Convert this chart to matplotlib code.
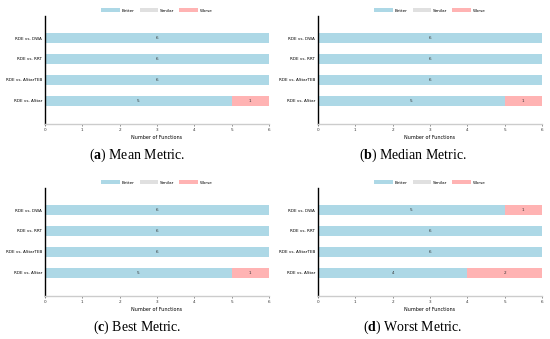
import matplotlib
matplotlib.use("Agg")
import matplotlib.pyplot as plt
import numpy as np

plt.rcParams["mathtext.fontset"] = "custom"
plt.rcParams["mathtext.rm"] = "Liberation Serif"
plt.rcParams["mathtext.bf"] = "Liberation Serif:bold"

categories = ["RDE vs. AStar", "RDE vs. AStarTEB", "RDE vs. RRT", "RDE vs. DWA"]
mean_better = [5, 6, 6, 6]
mean_similar = [0, 0, 0, 0]
mean_worse = [1, 0, 0, 0]
median_better = [5, 6, 6, 6]
median_similar = [0, 0, 0, 0]
median_worse = [1, 0, 0, 0]
best_better = [5, 6, 6, 6]
best_similar = [0, 0, 0, 0]
best_worse = [1, 0, 0, 0]
worst_better = [4, 6, 6, 5]
worst_similar = [0, 0, 0, 0]
worst_worse = [2, 0, 0, 1]
captions = [("a", " Mean Metric."), ("b", " Median Metric."), ("c", " Best Metric."), ("d", " Worst Metric.")]
legend_labels = ["Better", "Similar", "Worse"]
colors = ["#ADD8E6", "#E0E0E0", "#FFB3B3"]

W, H = 550, 339
fig = plt.figure(figsize=(W / 100, H / 100), dpi=100)

boxes = [(45, 269, 16, 124), (318, 542, 16, 124), (45, 269, 188, 296), (318, 542, 188, 296)]
cap_x = [0.25, 0.75, 0.25, 0.75]
data = [(mean_better, mean_similar, mean_worse),
        (median_better, median_similar, median_worse),
        (best_better, best_similar, best_worse),
        (worst_better, worst_similar, worst_worse)]
fs = 3.0

for (l, r, t, b), series, cap, cx in zip(boxes, data, captions, cap_x):
    ax = fig.add_axes([l / W, 1 - b / H, (r - l) / W, (b - t) / H])
    y = np.arange(len(categories))
    left = np.zeros(len(categories))
    handles = []
    for vals, col, lab in zip(series, colors, legend_labels):
        vals = np.array(vals, dtype=float)
        bars = ax.barh(y, vals, left=left, height=0.5, color=col, label=lab)
        handles.append(bars)
        for yi, (lv, v) in enumerate(zip(left, vals)):
            if v > 0:
                ax.text(lv + v / 2, yi, f"{int(v)}", ha="center", va="center",
                        fontsize=fs, color="#333333")
        left = left + vals
    ax.set_xlim(0, 6)
    ax.set_ylim(-1.1, 4.05)
    ax.set_yticks(y)
    ax.set_yticklabels(categories, fontsize=fs)
    ax.set_xticks(range(0, 7))
    ax.tick_params(axis="x", labelsize=fs, length=1.5, width=0.4, colors="#333333", pad=1.5)
    ax.tick_params(axis="y", length=0, pad=2)
    ax.set_xlabel("Number of Functions", fontsize=fs + 0.5, labelpad=2)
    for s in ["top", "right"]:
        ax.spines[s].set_visible(False)
    ax.spines["left"].set_color("black")
    ax.spines["left"].set_linewidth(1.0)
    ax.spines["bottom"].set_color("#cccccc")
    ax.spines["bottom"].set_linewidth(1.0)
    ax.legend(handles=handles, loc="lower center", bbox_to_anchor=(0.5, 1.0), ncol=3,
              fontsize=fs, frameon=False, handlelength=4.5, handleheight=1.2,
              columnspacing=1.2, handletextpad=0.4, borderaxespad=0.4)
    cy = 1 - (b + 31) / H
    fig.text(cx, cy, "(" + r"$\mathbf{" + cap[0] + "}$" + ")" + cap[1], ha="center", va="center",
             fontsize=10, family="Liberation Serif")

fig.savefig("out.png", dpi=100)
